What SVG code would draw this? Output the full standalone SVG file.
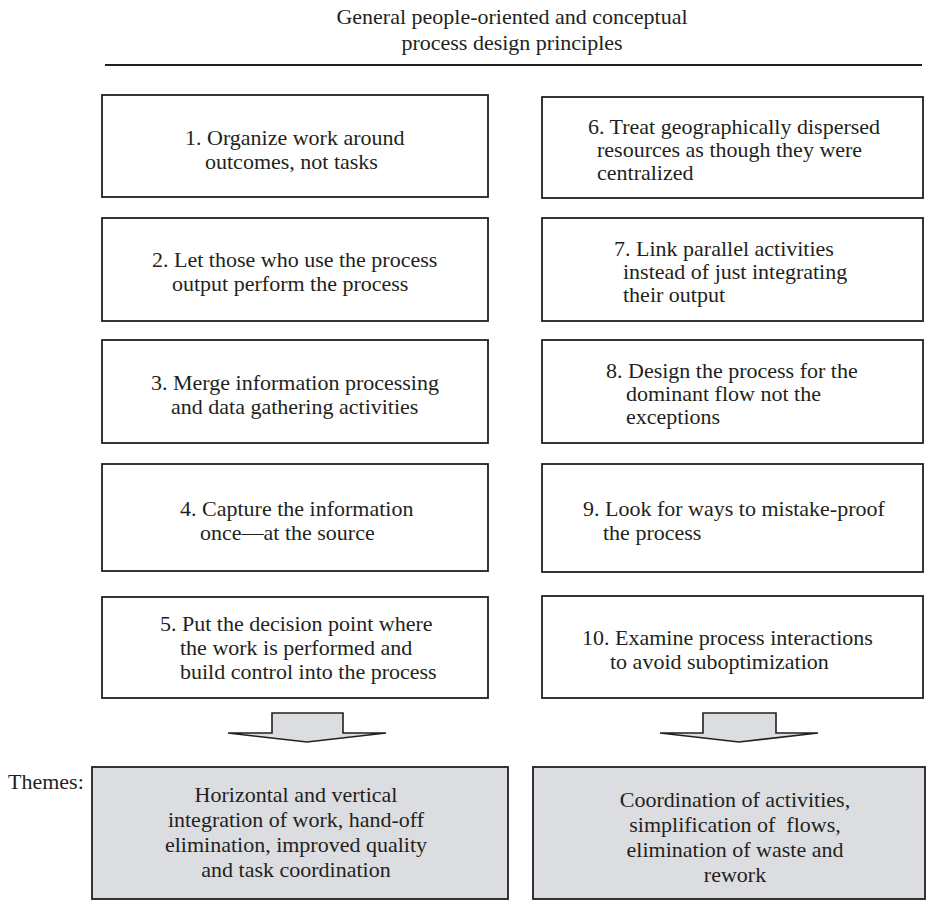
<svg xmlns="http://www.w3.org/2000/svg" width="927" height="902" viewBox="0 0 927 902">
  <style>
    text { font-family: "Liberation Serif", "Times New Roman", serif; font-size: 22px; fill: #231f20; }
    .title { text-anchor: middle; }
    .box { fill: #ffffff; stroke: #231f20; stroke-width: 1.8; }
    .theme { fill: #dcdde0; stroke: #231f20; stroke-width: 1.8; }
    .mid { text-anchor: middle; }
    .arrow { fill: #dcdde0; stroke: #231f20; stroke-width: 1.6; stroke-linejoin: miter; }
  </style>

  <!-- heading -->
  <g id="heading">
    <text class="title" x="512" y="24">General people-oriented and conceptual</text>
    <text class="title" x="512" y="50">process design principles</text>
    <line x1="105" y1="65" x2="922" y2="65" stroke="#231f20" stroke-width="2.2"/>
  </g>

  <!-- left column of principles -->
  <g id="p1">
    <rect class="box" x="102" y="95" width="386" height="102"/>
    <text x="185" y="145">1. Organize work around</text>
    <text x="205" y="169">outcomes, not tasks</text>
  </g>
  <g id="p2">
    <rect class="box" x="102" y="218" width="386" height="103"/>
    <text x="152" y="267">2. Let those who use the process</text>
    <text x="172" y="291">output perform the process</text>
  </g>
  <g id="p3">
    <rect class="box" x="102" y="340" width="386" height="103"/>
    <text x="151" y="390">3. Merge information processing</text>
    <text x="171" y="414">and data gathering activities</text>
  </g>
  <g id="p4">
    <rect class="box" x="102" y="464" width="386" height="107"/>
    <text x="180" y="516">4. Capture the information</text>
    <text x="200" y="540">once—at the source</text>
  </g>
  <g id="p5">
    <rect class="box" x="102" y="597" width="386" height="101"/>
    <text x="160" y="631">5. Put the decision point where</text>
    <text x="180" y="655">the work is performed and</text>
    <text x="180" y="679">build control into the process</text>
  </g>

  <!-- right column of principles -->
  <g id="p6">
    <rect class="box" x="542" y="97" width="381" height="101"/>
    <text x="588" y="134">6. Treat geographically dispersed</text>
    <text x="597" y="157">resources as though they were</text>
    <text x="597" y="180">centralized</text>
  </g>
  <g id="p7">
    <rect class="box" x="542" y="218" width="381" height="103"/>
    <text x="614" y="256">7. Link parallel activities</text>
    <text x="623" y="279">instead of just integrating</text>
    <text x="623" y="302">their output</text>
  </g>
  <g id="p8">
    <rect class="box" x="542" y="340" width="381" height="103"/>
    <text x="606" y="378">8. Design the process for the</text>
    <text x="626" y="401">dominant flow not the</text>
    <text x="626" y="424">exceptions</text>
  </g>
  <g id="p9">
    <rect class="box" x="542" y="464" width="381" height="108"/>
    <text x="583" y="516">9. Look for ways to mistake-proof</text>
    <text x="603" y="540">the process</text>
  </g>
  <g id="p10">
    <rect class="box" x="542" y="596" width="381" height="102"/>
    <text x="582" y="645">10. Examine process interactions</text>
    <text x="610" y="669">to avoid suboptimization</text>
  </g>

  <!-- block arrows leading to the themes -->
  <g id="connectors">
    <path class="arrow" d="M272,733 V713 H343 V733 H386 L307,742 L228,733 Z"/>
    <path class="arrow" d="M703,733 V713 H776 V733 H818 L739,742 L660,733 Z"/>
  </g>

  <!-- themes -->
  <text x="8" y="789">Themes:</text>
  <g id="theme1">
    <rect class="theme" x="92" y="767" width="416" height="132"/>
    <text class="mid" x="296" y="802">Horizontal and vertical</text>
    <text class="mid" x="296" y="827">integration of work, hand-off</text>
    <text class="mid" x="296" y="852">elimination, improved quality</text>
    <text class="mid" x="296" y="877">and task coordination</text>
  </g>
  <g id="theme2">
    <rect class="theme" x="533" y="767" width="392" height="132"/>
    <text class="mid" x="735" y="807">Coordination of activities,</text>
    <text class="mid" x="735" y="832" xml:space="preserve">simplification of  flows,</text>
    <text class="mid" x="735" y="857">elimination of waste and</text>
    <text class="mid" x="735" y="882">rework</text>
  </g>
</svg>
